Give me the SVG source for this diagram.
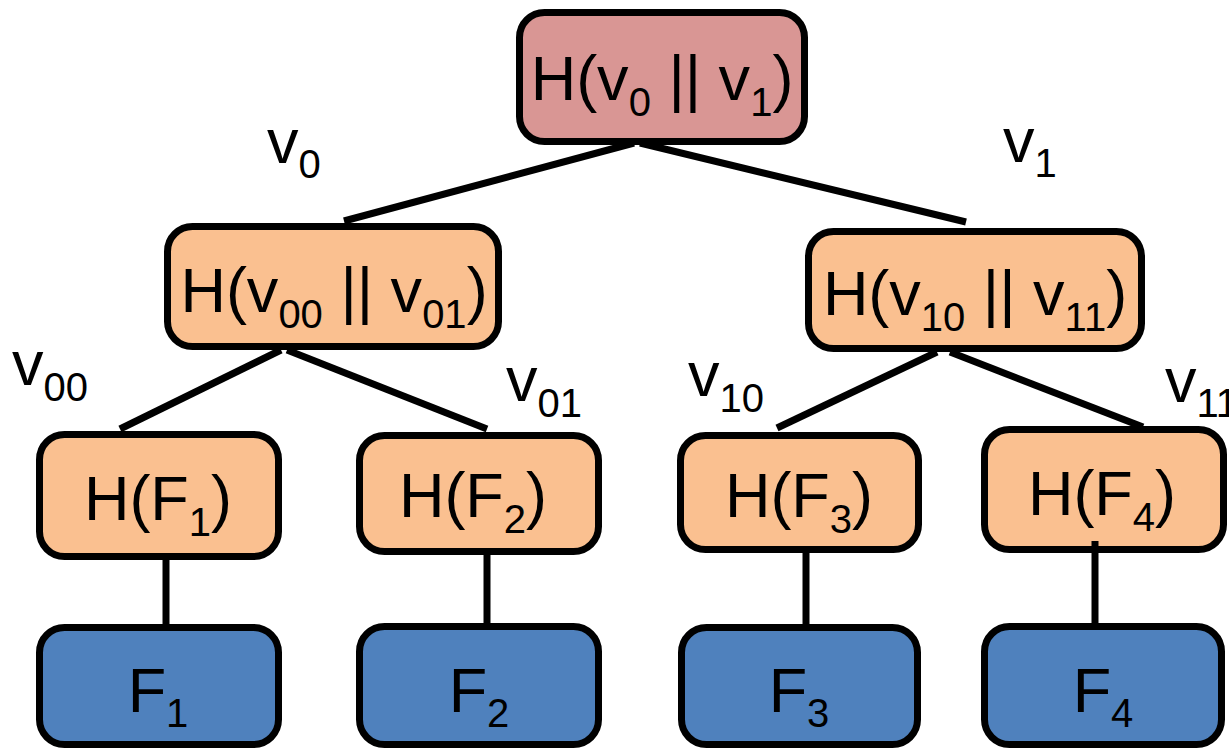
<svg xmlns="http://www.w3.org/2000/svg" width="1229" height="750" viewBox="0 0 1229 750">
<style>
.box{stroke:#000;stroke-width:7;}
.root{fill:#D99694;}
.hash{fill:#FAC090;}
.file{fill:#4F81BD;}
.t{font-family:"Liberation Sans",Arial,sans-serif;font-size:63px;fill:#000;}
.s{font-size:40px;}
.c{stroke:#000;stroke-width:7;fill:none;}
</style>
<rect width="1229" height="750" fill="#fff"/>
<g id="node-root">
<rect class="box root" x="519.5" y="12.5" width="285" height="129" rx="25"/>
<text class="t" x="662" y="100" text-anchor="middle">H(v<tspan class="s" dy="16">0</tspan><tspan dy="-16"> || v</tspan><tspan class="s" dy="16">1</tspan><tspan dy="-16">)</tspan></text>
</g>
<g id="node-v0">
<rect class="box hash" x="167.5" y="226.5" width="331" height="120" rx="25"/>
<text class="t" x="334" y="312" text-anchor="middle">H(v<tspan class="s" dy="16">00</tspan><tspan dy="-16"> || v</tspan><tspan class="s" dy="16">01</tspan><tspan dy="-16">)</tspan></text>
</g>
<g id="node-v1">
<rect class="box hash" x="808.5" y="231.5" width="333" height="117" rx="25"/>
<text class="t" x="975" y="315" text-anchor="middle">H(v<tspan class="s" dy="16">10</tspan><tspan dy="-16"> || v</tspan><tspan class="s" dy="16">11</tspan><tspan dy="-16">)</tspan></text>
</g>
<g id="node-hf1">
<rect class="box hash" x="39.5" y="434.5" width="239" height="122" rx="25"/>
<text class="t" x="158" y="520" text-anchor="middle">H(F<tspan class="s" dy="16">1</tspan><tspan dy="-16">)</tspan></text>
</g>
<g id="node-hf2">
<rect class="box hash" x="359.5" y="435.5" width="239" height="116" rx="25"/>
<text class="t" x="473" y="517" text-anchor="middle">H(F<tspan class="s" dy="16">2</tspan><tspan dy="-16">)</tspan></text>
</g>
<g id="node-hf3">
<rect class="box hash" x="680.5" y="435.5" width="238" height="114" rx="25"/>
<text class="t" x="799" y="517" text-anchor="middle">H(F<tspan class="s" dy="16">3</tspan><tspan dy="-16">)</tspan></text>
</g>
<g id="node-hf4">
<rect class="box hash" x="984.5" y="429.5" width="239" height="120" rx="25"/>
<text class="t" x="1102" y="515" text-anchor="middle">H(F<tspan class="s" dy="16">4</tspan><tspan dy="-16">)</tspan></text>
</g>
<g id="node-f1">
<rect class="box file" x="39.5" y="627.5" width="239" height="117" rx="25"/>
<text class="t" x="158" y="712" text-anchor="middle">F<tspan class="s" dy="15">1</tspan></text>
</g>
<g id="node-f2">
<rect class="box file" x="359.5" y="626.5" width="239" height="118" rx="25"/>
<text class="t" x="479" y="712" text-anchor="middle">F<tspan class="s" dy="15">2</tspan></text>
</g>
<g id="node-f3">
<rect class="box file" x="681.5" y="627.5" width="236" height="117" rx="25"/>
<text class="t" x="799" y="712" text-anchor="middle">F<tspan class="s" dy="15">3</tspan></text>
</g>
<g id="node-f4">
<rect class="box file" x="984.5" y="626.5" width="237" height="118" rx="25"/>
<text class="t" x="1103" y="712" text-anchor="middle">F<tspan class="s" dy="15">4</tspan></text>
</g>
<g id="connectors">
<line class="c" x1="634" y1="143" x2="344" y2="221"/>
<line class="c" x1="640" y1="143" x2="966" y2="222"/>
<line class="c" x1="281" y1="350" x2="120" y2="429"/>
<line class="c" x1="287" y1="350" x2="487" y2="429"/>
<line class="c" x1="937" y1="352" x2="777" y2="428"/>
<line class="c" x1="950" y1="352" x2="1143" y2="427"/>
<line class="c" x1="166" y1="560" x2="166" y2="624"/>
<line class="c" x1="487" y1="555" x2="487" y2="623"/>
<line class="c" x1="806" y1="553" x2="806" y2="624"/>
<line class="c" x1="1095" y1="541" x2="1095" y2="623"/>
</g>
<g id="edge-labels">
<text class="t" x="267" y="163">v<tspan class="s" dy="15">0</tspan></text>
<text class="t" x="1003" y="162">v<tspan class="s" dy="15">1</tspan></text>
<text class="t" x="12" y="385">v<tspan class="s" dy="16">00</tspan></text>
<text class="t" x="506" y="401">v<tspan class="s" dy="16">01</tspan></text>
<text class="t" x="688" y="396">v<tspan class="s" dy="16">10</tspan></text>
<text class="t" x="1165" y="402">v<tspan class="s" dy="15">11</tspan></text>
</g>
</svg>
